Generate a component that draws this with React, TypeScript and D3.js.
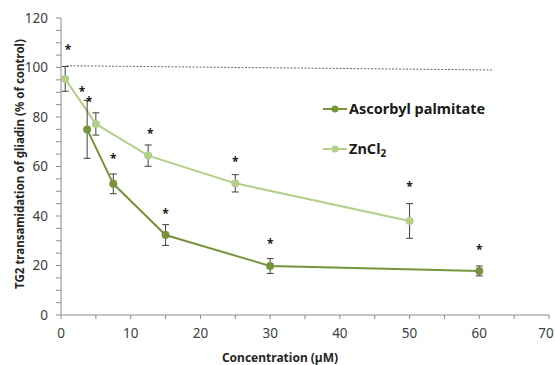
import React, { useEffect, useRef } from 'react';
import * as d3 from 'd3';

// concentration (µM), value (% of control), error
const ascorbylX = [3.75, 7.5, 15, 30, 60];
const ascorbylY = [75, 53, 32.3, 19.8, 17.8];
const ascorbylErr = [11.7, 4, 4.2, 3, 2];

const zncl2X = [0.6, 5, 12.5, 25, 50];
const zncl2Y = [95.4, 77.2, 64.4, 53.2, 38];
const zncl2Err = [5, 4.5, 4.3, 3.5, 7];

// significance asterisks (x, y in data units)
const starX = [1, 3, 4, 7.5, 12.8, 15, 25, 30, 50, 60];
const starY = [108, 91, 87, 64, 74, 41.6, 62.6, 29.5, 52.5, 27];

// control trend (dotted)
const trendX = [0.8, 62];
const trendY = [100.7, 99];

const xTicks = [0, 10, 20, 30, 40, 50, 60, 70];
const yTicks = [0, 20, 40, 60, 80, 100, 120];

const darkGreen = '#77933c';
const lightGreen = '#b3cf8a';
const font = '"Noto Sans", "Open Sans", sans-serif';

export default function App() {
  const ref = useRef<SVGSVGElement>(null);

  useEffect(() => {
    const svg = d3.select(ref.current);
    svg.selectAll('*').remove();

    const x = d3.scaleLinear().domain([0, 70]).range([61, 549]);
    const y = d3.scaleLinear().domain([0, 120]).range([315, 18]);

    const g = svg.append('g');
    const axisColor = '#8c8c8c';

    // y axis
    g.append('line')
      .attr('x1', x(0)).attr('x2', x(0))
      .attr('y1', y(0)).attr('y2', y(120))
      .attr('stroke', axisColor).attr('stroke-width', 1);
    d3.range(0, 121, 5).forEach(v => {
      g.append('line')
        .attr('x1', x(0) - 5).attr('x2', x(0))
        .attr('y1', y(v)).attr('y2', y(v))
        .attr('stroke', axisColor);
    });
    yTicks.forEach(v => {
      g.append('text')
        .attr('x', x(0) - 13).attr('y', y(v))
        .attr('dy', '0.36em')
        .attr('text-anchor', 'end')
        .attr('font-family', font).attr('font-size', 13.5)
        .attr('fill', '#404040')
        .text(v);
    });

    // x axis
    g.append('line')
      .attr('x1', x(0)).attr('x2', x(70))
      .attr('y1', y(0)).attr('y2', y(0))
      .attr('stroke', axisColor);
    d3.range(0, 71, 5).forEach(v => {
      g.append('line')
        .attr('x1', x(v)).attr('x2', x(v))
        .attr('y1', y(0)).attr('y2', y(0) + 4)
        .attr('stroke', axisColor);
    });
    xTicks.forEach(v => {
      g.append('text')
        .attr('x', Math.min(x(v), 546)).attr('y', y(0) + 23)
        .attr('text-anchor', 'middle')
        .attr('font-family', font).attr('font-size', 13.5)
        .attr('fill', '#404040')
        .text(v);
    });

    // axis titles
    g.append('text')
      .attr('x', 280).attr('y', 362)
      .attr('text-anchor', 'middle')
      .attr('font-family', font).attr('font-size', 12).attr('font-weight', 'bold')
      .attr('fill', '#262626')
      .text('Concentration (µM)');
    g.append('text')
      .attr('transform', 'translate(24,164) rotate(-90)')
      .attr('text-anchor', 'middle')
      .attr('font-family', font).attr('font-size', 11.5).attr('font-weight', 'bold')
      .attr('fill', '#262626')
      .text('TG2 transamidation of gliadin (% of control)');

    // dotted trend
    g.append('line')
      .attr('x1', x(trendX[0])).attr('x2', x(trendX[1]))
      .attr('y1', y(trendY[0])).attr('y2', y(trendY[1]))
      .attr('stroke', '#404040').attr('stroke-width', 0.8)
      .attr('stroke-dasharray', '2,1.5');

    const line = d3.line<[number, number]>()
      .x(d => x(d[0])).y(d => y(d[1]));

    const series = [
      { xs: zncl2X, ys: zncl2Y, errs: zncl2Err, color: lightGreen },
      { xs: ascorbylX, ys: ascorbylY, errs: ascorbylErr, color: darkGreen },
    ];

    series.forEach(s => {
      const pts = s.xs.map((v, i) => [v, s.ys[i]] as [number, number]);
      g.append('path')
        .datum(pts)
        .attr('fill', 'none')
        .attr('stroke', s.color)
        .attr('stroke-width', 2)
        .attr('d', line);
      pts.forEach((p, i) => {
        const cx = x(p[0]);
        const top = y(p[1] + s.errs[i]);
        const bot = y(p[1] - s.errs[i]);
        g.append('line').attr('x1', cx).attr('x2', cx).attr('y1', top).attr('y2', bot)
          .attr('stroke', '#404040').attr('stroke-width', 1);
        [top, bot].forEach(yy => {
          g.append('line').attr('x1', cx - 3.5).attr('x2', cx + 3.5).attr('y1', yy).attr('y2', yy)
            .attr('stroke', '#404040').attr('stroke-width', 1);
        });
        g.append('circle').attr('cx', cx).attr('cy', y(p[1])).attr('r', 4)
          .attr('fill', s.color);
      });
    });

    // asterisks
    starX.forEach((v, i) => {
      g.append('text')
        .attr('x', x(v)).attr('y', y(starY[i]) + 6)
        .attr('text-anchor', 'middle')
        .attr('font-family', font).attr('font-size', 12).attr('font-weight', 'bold')
        .attr('fill', '#1a1a1a')
        .text('*');
    });

    // legend
    const legend = [
      { label: 'Ascorbyl palmitate', color: darkGreen, y: 109 },
      { label: 'ZnCl', sub: '2', color: lightGreen, y: 149 },
    ];
    legend.forEach(l => {
      g.append('line').attr('x1', 323).attr('x2', 347).attr('y1', l.y).attr('y2', l.y)
        .attr('stroke', l.color).attr('stroke-width', 2);
      g.append('circle').attr('cx', 335).attr('cy', l.y).attr('r', 3.5).attr('fill', l.color);
      const t = g.append('text')
        .attr('x', 349).attr('y', l.y).attr('dy', '0.35em')
        .attr('font-family', font).attr('font-size', 14.5).attr('font-weight', 'bold')
        .attr('fill', '#1a1a1a')
        .text(l.label);
      if (l.sub) {
        t.append('tspan').attr('font-size', 10).attr('dy', 3).text(l.sub);
      }
    });
  }, []);

  return (
    <svg ref={ref} width={555} height={365}
      style={{ position: 'absolute', left: 0, top: 0, background: '#fff' }} />
  );
}
